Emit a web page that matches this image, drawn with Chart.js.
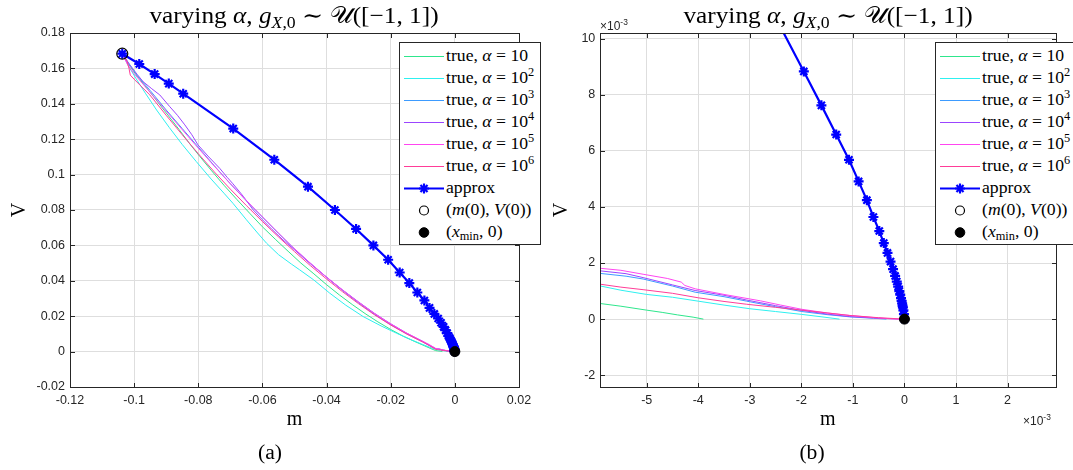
<!DOCTYPE html>
<html>
<head>
<meta charset="utf-8">
<script src="https://cdn.jsdelivr.net/npm/chart.js@4.4.1/dist/chart.umd.min.js"></script>
<style>
  html, body { margin:0; padding:0; background:#fff; }
  #page { position:relative; width:1073px; height:470px; overflow:hidden; background:#fff; }
  canvas { position:absolute; top:0; }
  #cA { left:0; }
  #cB { left:540px; }
  .serif { font-family:'Liberation Serif','DejaVu Serif',serif; color:#000; }
  .title { position:absolute; top:15px; font-size:23px; white-space:nowrap; transform:translate(-50%,-50%) scaleX(1.1); line-height:1; }
  .cap { position:absolute; top:452px; font-size:20px; transform:translate(-50%,-50%) scaleX(1.08); line-height:1; white-space:nowrap; }
  .legend { position:absolute; top:42px; width:142px; height:203px; box-sizing:border-box; border:1px solid #262626; background:#fff; }
  .row { position:absolute; left:0; height:22px; width:100%; }
  .row svg { position:absolute; left:3px; top:0; }
  .row span { position:absolute; left:46px; top:11px; transform-origin:left center; transform:translateY(-50%) scaleX(1.01); font-size:17.5px; white-space:nowrap; line-height:1; }
  sup { font-size:70%; vertical-align:0; position:relative; top:-0.55em; }
  sub { font-size:70%; vertical-align:0; position:relative; top:0.3em; }
  .expo { position:absolute; font-family:'Liberation Sans',Arial,sans-serif; font-size:12px; color:#262626; line-height:1; white-space:nowrap; }
</style>
</head>
<body>
<div id="page">
  <canvas id="cA" width="540" height="470"></canvas>
  <canvas id="cB" width="533" height="470"></canvas>

  <div class="title serif" style="left:293.5px;">varying <i>α</i>, <i>g</i><sub><i>X</i>,0</sub> ∼ 𝒰([−1, 1])</div>
  <div class="title serif" style="left:828px;">varying <i>α</i>, <i>g</i><sub><i>X</i>,0</sub> ∼ 𝒰([−1, 1])</div>

  <div class="expo" style="left:600px; top:20px;">×10<sup>-3</sup></div>
  <div class="expo" style="left:1023px; top:415px;">×10<sup>-3</sup></div>

  <div class="legend serif" id="legA" style="left:399px;"></div>
  <div class="legend serif" id="legB" style="left:935px;"></div>

  <div class="cap serif" style="left:270px;">(a)</div>
  <div class="cap serif" style="left:812px;">(b)</div>
</div>

<script>
// ---------------- data ----------------
const startM = [-0.1037];
const startV = [0.1683];
const xminM = [0];
const xminV = [0];

const approxM = [-0.1037, -0.0984, -0.0936, -0.0892, -0.0847, -0.0691, -0.0563, -0.0458, -0.0374, -0.0308,
  -0.0254, -0.0208, -0.0172, -0.0142, -0.0117, -0.0095, -0.0079, -0.0064, -0.0052, -0.0043,
  -0.0035, -0.0029, -0.0024, -0.001952, -0.001611, -0.001324, -0.001076, -0.000889, -0.000729, -0.000602,
  -0.000488, -0.000401, -0.000329, -0.000270, -0.000221, -0.000181, -0.000149, -0.000122, -0.000100, -0.000082,
  -0.000067, -0.000055, -0.000045, -0.000037, -0.000030, -0.000020, -0.000010, 0];
const approxV = [0.1683, 0.1625, 0.1568, 0.1514, 0.1457, 0.1260, 0.1084, 0.0932, 0.0800, 0.0693,
  0.0600, 0.0519, 0.0447, 0.0387, 0.0334, 0.0289, 0.0247, 0.0213, 0.0187, 0.0163,
  0.0140, 0.0121, 0.0104, 0.00883, 0.00762, 0.00658, 0.00568, 0.00491, 0.00424, 0.00364,
  0.00314, 0.00271, 0.00236, 0.00205, 0.00178, 0.00154, 0.00134, 0.00116, 0.00100, 0.00087,
  0.00075, 0.00065, 0.00056, 0.00048, 0.00042, 0.00031, 0.00018, 0];

// true, alpha = 10
const mAlpha1 = [-0.1037, -0.1020, -0.0990, -0.0950, -0.0905, -0.0860, -0.0825, -0.0795, -0.0760, -0.0720,
  -0.0680, -0.0640, -0.0600, -0.0560, -0.0520, -0.0480, -0.0442, -0.0400, -0.0360, -0.0320,
  -0.0280, -0.0240, -0.0200, -0.0160, -0.0125, -0.0095, -0.0075, -0.0060, -0.0055, -0.0050,
  -0.0047, -0.0044, -0.0041, -0.0039];
const vAlpha1 = [0.1683, 0.1630, 0.1555, 0.1465, 0.1360, 0.1255, 0.1170, 0.1102, 0.1025, 0.0940,
  0.0860, 0.0782, 0.0705, 0.0635, 0.0567, 0.0500, 0.0443, 0.0378, 0.0320, 0.0266,
  0.0215, 0.0168, 0.0125, 0.0086, 0.0057, 0.0033, 0.0017, 0.00058, 0.00046, 0.00032,
  0.00024, 0.00015, 0.00007, 0.0];

// true, alpha = 10^2
const mAlpha2 = [-0.1037, -0.1018, -0.0995, -0.0965, -0.0930, -0.0890, -0.0850, -0.0806, -0.0760, -0.0720,
  -0.0692, -0.0650, -0.0615, -0.0587, -0.0550, -0.0510, -0.0484, -0.0440, -0.0390, -0.0340,
  -0.0286, -0.0230, -0.0182, -0.0130, -0.0100, -0.0078, -0.0060, -0.0055, -0.0050, -0.0045,
  -0.0040, -0.0035, -0.0030, -0.0025, -0.0020, -0.0016, -0.00126];
const vAlpha2 = [0.1683, 0.1615, 0.1545, 0.1460, 0.1365, 0.1265, 0.1170, 0.1073, 0.0975, 0.0895,
  0.0838, 0.0745, 0.0670, 0.0612, 0.0548, 0.0495, 0.0462, 0.0405, 0.0330, 0.0262,
  0.0198, 0.0145, 0.0104, 0.0062, 0.0040, 0.0024, 0.00122, 0.00103, 0.00088, 0.00078,
  0.00064, 0.00050, 0.00037, 0.00027, 0.00017, 0.00008, 0.0];

// true, alpha = 10^3
const mAlpha3 = [-0.1037, -0.1015, -0.0990, -0.0950, -0.0900, -0.0850, -0.0800, -0.0750, -0.0700, -0.0650,
  -0.0600, -0.0550, -0.0500, -0.0450, -0.0400, -0.0350, -0.0300, -0.0250, -0.0200, -0.0150,
  -0.0100, -0.0080, -0.0060, -0.0054, -0.00507, -0.0045, -0.00406, -0.0035, -0.00306, -0.0025,
  -0.00199, -0.0015, -0.00106, -0.0006, -0.00035];
const vAlpha3 = [0.1683, 0.1625, 0.1560, 0.1475, 0.1365, 0.1260, 0.1155, 0.1050, 0.0948, 0.0852,
  0.0760, 0.0668, 0.0580, 0.0498, 0.0420, 0.0345, 0.0275, 0.0210, 0.0152, 0.0100,
  0.0055, 0.0035, 0.00165, 0.00153, 0.00143, 0.00118, 0.00096, 0.00080, 0.00064, 0.00044,
  0.00027, 0.00016, 0.00008, 0.00003, 0.0];

// true, alpha = 10^4
const mAlpha4 = [-0.1037, -0.1025, -0.1014, -0.0990, -0.0972, -0.0945, -0.0920, -0.0889, -0.0865, -0.0842,
  -0.0820, -0.0801, -0.0770, -0.0733, -0.0710, -0.0692, -0.0660, -0.0629, -0.0600, -0.0570,
  -0.0536, -0.0500, -0.0450, -0.0400, -0.0350, -0.0300, -0.0250, -0.0200, -0.0150, -0.0100,
  -0.0080, -0.0060, -0.0054, -0.00507, -0.0045, -0.00406, -0.0035, -0.00306, -0.0025, -0.00199,
  -0.0015, -0.00106, -0.0005, -0.0001];
const vAlpha4 = [0.1683, 0.1650, 0.1620, 0.1565, 0.1525, 0.1485, 0.1450, 0.1384, 0.1335, 0.1281,
  0.1225, 0.1168, 0.1105, 0.1035, 0.0985, 0.0948, 0.0878, 0.0801, 0.0745, 0.0690,
  0.0631, 0.0575, 0.0495, 0.0420, 0.0348, 0.0280, 0.0215, 0.0157, 0.0104, 0.0058,
  0.0037, 0.00174, 0.00162, 0.00148, 0.00122, 0.00102, 0.00085, 0.00068, 0.00048, 0.00031,
  0.00018, 0.00009, 0.00003, 0.0];

// true, alpha = 10^5
const mAlpha5 = [-0.1037, -0.1020, -0.1000, -0.0960, -0.0910, -0.0860, -0.0810, -0.0760, -0.0710, -0.0660,
  -0.0610, -0.0560, -0.0510, -0.0460, -0.0410, -0.0360, -0.0310, -0.0260, -0.0210, -0.0160,
  -0.0110, -0.0080, -0.0060, -0.0055, -0.00507, -0.0046, -0.00433, -0.00426, -0.00406, -0.0035,
  -0.00279, -0.0024, -0.00199, -0.0015, -0.00106, -0.0005, -0.00012, 0];
const vAlpha5 = [0.1683, 0.1620, 0.1570, 0.1485, 0.1380, 0.1275, 0.1170, 0.1068, 0.0968, 0.0872,
  0.0780, 0.0688, 0.0598, 0.0515, 0.0436, 0.0362, 0.0292, 0.0227, 0.0167, 0.0114,
  0.0066, 0.0040, 0.00183, 0.00174, 0.00160, 0.00145, 0.00132, 0.00120, 0.00108, 0.00088,
  0.00065, 0.00050, 0.00035, 0.00022, 0.00013, 0.00004, 0.0, 0.0];

// true, alpha = 10^6
const mAlpha6 = [-0.1037, -0.1022, -0.1016, -0.1012, -0.0998, -0.0951, -0.0900, -0.0850, -0.0800, -0.0750,
  -0.0700, -0.0650, -0.0600, -0.0550, -0.0500, -0.0450, -0.0400, -0.0350, -0.0300, -0.0250,
  -0.0200, -0.0150, -0.0100, -0.0080, -0.0060, -0.0055, -0.00507, -0.0045, -0.0040, -0.0035,
  -0.00306, -0.0025, -0.00199, -0.0015, -0.00106, -0.0005, 0];
const vAlpha6 = [0.1683, 0.1640, 0.1600, 0.1562, 0.1535, 0.1450, 0.1335, 0.1225, 0.1118, 0.1015,
  0.0918, 0.0825, 0.0735, 0.0648, 0.0565, 0.0485, 0.0410, 0.0338, 0.0270, 0.0207,
  0.0150, 0.0099, 0.0054, 0.0034, 0.00127, 0.00114, 0.00105, 0.00092, 0.00076, 0.00063,
  0.00053, 0.00042, 0.00032, 0.00022, 0.00013, 0.00005, 0.0];

// tick values and tick labels
const xTicksA = [-0.12, -0.1, -0.08, -0.06, -0.04, -0.02, 0, 0.02];
const xLabelsA = ['-0.12', '-0.1', '-0.08', '-0.06', '-0.04', '-0.02', '0', '0.02'];
const yTicksA = [-0.02, 0, 0.02, 0.04, 0.06, 0.08, 0.1, 0.12, 0.14, 0.16, 0.18];
const yLabelsA = ['-0.02', '0', '0.02', '0.04', '0.06', '0.08', '0.1', '0.12', '0.14', '0.16', '0.18'];
const xTicksB = [-0.005, -0.004, -0.003, -0.002, -0.001, 0, 0.001, 0.002];
const xLabelsB = ['-5', '-4', '-3', '-2', '-1', '0', '1', '2'];
const yTicksB = [-0.002, 0, 0.002, 0.004, 0.006, 0.008, 0.01];
const yLabelsB = ['-2', '0', '2', '4', '6', '8', '10'];

// legend texts
const legendTexts = [
  'true, <i>α</i> = 10',
  'true, <i>α</i> = 10<sup>2</sup>',
  'true, <i>α</i> = 10<sup>3</sup>',
  'true, <i>α</i> = 10<sup>4</sup>',
  'true, <i>α</i> = 10<sup>5</sup>',
  'true, <i>α</i> = 10<sup>6</sup>',
  'approx',
  '(<i>m</i>(0), <i>V</i>(0))',
  '(<i>x</i><sub>min</sub>, 0)'
];

// ---------------- styles ----------------
const lineColors = ['#2ee68c', '#2ef0f0', '#3d9bff', '#9b45ff', '#ff45f0', '#ff3d98'];
const approxColor = '#0000ff';
const tickFont = { family: "'Liberation Sans', Arial, sans-serif", size: 12.5 };
const serifFont = { family: "'Liberation Serif', 'DejaVu Serif', serif", size: 20 };

const trueSeries = [
  { m: mAlpha1, v: vAlpha1 }, { m: mAlpha2, v: vAlpha2 }, { m: mAlpha3, v: vAlpha3 },
  { m: mAlpha4, v: vAlpha4 }, { m: mAlpha5, v: vAlpha5 }, { m: mAlpha6, v: vAlpha6 }
];

const pts = (ms, vs) => ms.map((m, i) => ({ x: m, y: vs[i] }));

const boxPlugin = {
  id: 'matlabBox',
  afterDraw(chart) {
    const { ctx, chartArea: a, scales: { x, y } } = chart;
    ctx.save();
    ctx.strokeStyle = '#262626';
    ctx.lineWidth = 1;
    const L = Math.round(a.left) + 0.5, R = Math.round(a.right) + 0.5;
    const T = Math.round(a.top) + 0.5, B = Math.round(a.bottom) + 0.5;
    ctx.strokeRect(L, T, R - L, B - T);
    const tl = 4.5;
    ctx.beginPath();
    x.ticks.forEach(t => {
      const px = Math.round(x.getPixelForValue(t.value)) + 0.5;
      ctx.moveTo(px, B); ctx.lineTo(px, B - tl);
      ctx.moveTo(px, T); ctx.lineTo(px, T + tl);
    });
    y.ticks.forEach(t => {
      const py = Math.round(y.getPixelForValue(t.value)) + 0.5;
      ctx.moveTo(L, py); ctx.lineTo(L + tl, py);
      ctx.moveTo(R, py); ctx.lineTo(R - tl, py);
    });
    ctx.stroke();
    ctx.restore();
  }
};

function makeChart(id, o) {
  const datasets = [];
  datasets.push({ data: pts(xminM, xminV), showLine: false, pointStyle: 'circle', pointRadius: 5,
    pointBackgroundColor: '#000', pointBorderColor: '#000', pointBorderWidth: 1, order: 0 });
  datasets.push({ data: pts(startM, startV), showLine: false, pointStyle: 'circle', pointRadius: 5.5,
    pointBackgroundColor: 'rgba(0,0,0,0)', pointBorderColor: '#000', pointBorderWidth: 1.2, order: 1 });
  datasets.push({ data: pts(approxM, approxV), showLine: true, borderColor: approxColor, borderWidth: 2.2,
    pointStyle: 'star', pointRadius: 5, pointBorderColor: approxColor, pointBackgroundColor: approxColor,
    pointBorderWidth: 2.2, tension: 0, order: 2 });
  trueSeries.forEach((s, k) => datasets.push({ data: pts(s.m, s.v), showLine: true, borderColor: lineColors[k],
    borderWidth: 1, pointRadius: 0, tension: 0, order: 8 - k }));

  return new Chart(document.getElementById(id), {
    type: 'scatter',
    data: { datasets },
    plugins: [boxPlugin],
    options: {
      responsive: false, animation: false, devicePixelRatio: 1,
      layout: { padding: { left: 0, right: o.padRight, top: 33, bottom: 38.5 } },
      plugins: { legend: { display: false }, tooltip: { enabled: false } },
      scales: {
        x: {
          type: 'linear', min: o.xmin, max: o.xmax,
          afterBuildTicks: s => { s.ticks = o.xTicks.map(v => ({ value: v })); },
          afterFit: s => { s.height = 44.5; },
          grid: { color: '#dedede', drawTicks: false, lineWidth: 1 },
          border: { display: false },
          ticks: { callback: (v, i) => o.xLabels[i], font: tickFont, color: '#262626', padding: 6,
            maxRotation: 0, autoSkip: false },
          title: { display: true, text: 'm', font: serifFont, color: '#000', padding: { top: 0, bottom: 0 } }
        },
        y: {
          type: 'linear', min: o.ymin, max: o.ymax,
          afterBuildTicks: s => { s.ticks = o.yTicks.map(v => ({ value: v })); },
          afterFit: s => { s.width = o.yWidth; },
          grid: { color: '#dedede', drawTicks: false, lineWidth: 1 },
          border: { display: false },
          ticks: { callback: (v, i) => o.yLabels[i], font: tickFont, color: '#262626', padding: 5, autoSkip: false },
          title: { display: true, text: 'V', font: serifFont, color: '#000', padding: { top: o.yTitlePad, bottom: 0 } }
        }
      }
    }
  });
}

makeChart('cA', { xmin: -0.12, xmax: 0.02, ymin: -0.02, ymax: 0.18,
  xTicks: xTicksA, xLabels: xLabelsA, yTicks: yTicksA, yLabels: yLabelsA,
  yWidth: 70, padRight: 21, yTitlePad: 8 });
makeChart('cB', { xmin: -0.0059, xmax: 0.00293, ymin: -0.00242, ymax: 0.0102,
  xTicks: xTicksB, xLabels: xLabelsB, yTicks: yTicksB, yLabels: yLabelsB,
  yWidth: 60.3, padRight: 17.5, yTitlePad: 10 });

// ---------------- legends ----------------
function swatch(k) {
  const ns = 'http://www.w3.org/2000/svg';
  const svg = document.createElementNS(ns, 'svg');
  svg.setAttribute('width', '44'); svg.setAttribute('height', '22');
  const add = (tag, attrs) => { const e = document.createElementNS(ns, tag);
    Object.entries(attrs).forEach(([a, b]) => e.setAttribute(a, b)); svg.appendChild(e); };
  if (k < 6) {
    add('line', { x1: 1, y1: 11.5, x2: 41, y2: 11.5, stroke: lineColors[k], 'stroke-width': 1.2 });
  } else if (k === 6) {
    add('line', { x1: 1, y1: 11.5, x2: 41, y2: 11.5, stroke: approxColor, 'stroke-width': 2.2 });
    const c = 21, r = 5, d = r * 0.7071;
    add('path', { d: `M${c - r} 11.5 H${c + r} M${c} ${11.5 - r} V${11.5 + r} M${c - d} ${11.5 - d} L${c + d} ${11.5 + d} M${c - d} ${11.5 + d} L${c + d} ${11.5 - d}`,
      stroke: approxColor, 'stroke-width': 2.2, fill: 'none' });
  } else if (k === 7) {
    add('circle', { cx: 21, cy: 11.5, r: 4.5, fill: 'none', stroke: '#000', 'stroke-width': 1.2 });
  } else {
    add('circle', { cx: 21, cy: 11.5, r: 4.8, fill: '#000', stroke: '#000', 'stroke-width': 1 });
  }
  return svg;
}
['legA', 'legB'].forEach(id => {
  const box = document.getElementById(id);
  legendTexts.forEach((t, k) => {
    const row = document.createElement('div');
    row.className = 'row';
    row.style.top = (1.7 + 22 * k) + 'px';
    row.appendChild(swatch(k));
    const sp = document.createElement('span');
    sp.innerHTML = t;
    row.appendChild(sp);
    box.appendChild(row);
  });
});
</script>
</body>
</html>
